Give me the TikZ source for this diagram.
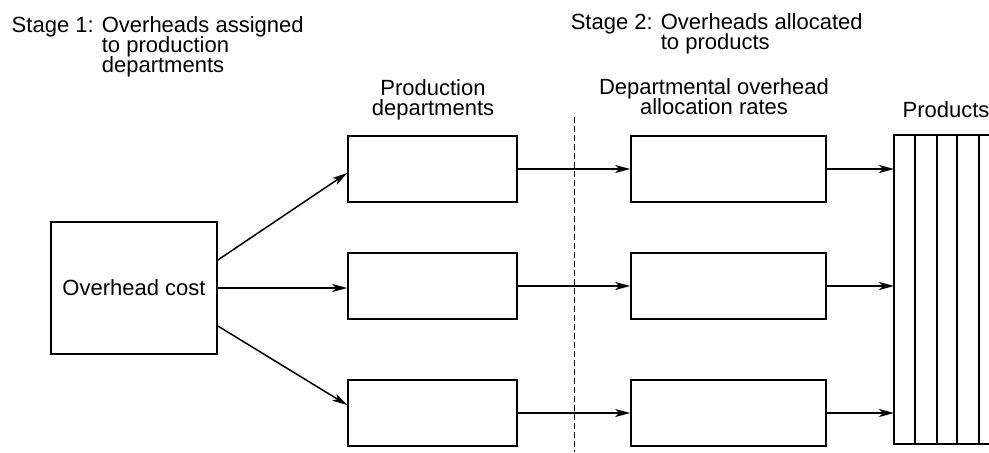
\documentclass[tikz,border=0pt]{standalone}
\usepackage{fontspec}
\setmainfont{Liberation Sans}
\usetikzlibrary{positioning,arrows.meta}
\newcommand{\labelfont}{\fontsize{11}{10}\selectfont\lineskiplimit=-5pt\relax}

\begin{document}
\begin{tikzpicture}[x=0.5pt,y=-0.5pt,>={Stealth[length=7.5pt,width=4pt,inset=2pt]},line width=0.75pt,
  txt/.style={inner sep=0pt,font=\labelfont},
  box/.style={draw,line width=0.85pt,minimum width=#1,minimum height=33pt,inner sep=0pt}]
  \useasboundingbox (0,0) rectangle (989,452);
  % ---- stage headings ----
  \node[txt,align=left,anchor=north west] (stage1) at (11,16) {Stage 1: Overheads assigned\\\hphantom{Stage 1: }to production\\\hphantom{Stage 1: }departments};
  \node[txt,align=left,anchor=north west] (stage2) at (570,13) {Stage 2: Overheads allocated\\\hphantom{Stage 2: }to products};
  \node[txt,align=center,anchor=north] (deptlbl) at (433,79) {Production\\departments};
  \node[txt,align=center,anchor=north] (ratelbl) at (714,78) {Departmental overhead\\allocation rates};
  \node[txt,anchor=north] (prodlbl) at (946,101) {Products};
  % ---- overhead cost ----
  \node[box=83pt,minimum height=66pt,txt] (cost) at (134,288) {Overhead cost};
  % ---- departments and rates ----
  \foreach \i/\y in {1/169,2/286,3/413}{
    \node[box=84.5pt] (prod\i) at (432.5,\y) {};
    \node[box=97.5pt] (rate\i) at (728.5,\y) {};
  }
  % ---- products block (runs off the right edge) ----
  \coordinate (pl) at (894,135);
  \draw[line width=0.65pt] (989,135) -- (894,135) -- (894,444) -- (989,444);
  \foreach \x in {915,937,957,979} \draw[line width=0.65pt] (\x,135) -- (\x,444);
  % ---- stage divider ----
  \draw[line width=0.5pt,dash pattern=on 3pt off 1.5pt] (574,117) -- (574,452);
  % ---- arrows ----
  \draw[->] ([yshift=14pt]cost.east) -- ([yshift=-2pt]prod1.west);
  \draw[->] (cost.east) -- (cost.east -| prod2.west);
  \draw[->] ([yshift=-19pt]cost.east) -- ([yshift=4pt]prod3.west);
  \foreach \i in {1,2,3}{
    \draw[->] (prod\i.east) -- (rate\i.west);
    \draw[->] (rate\i.east) -- (rate\i.east -| pl);
  }
\end{tikzpicture}
\end{document}
